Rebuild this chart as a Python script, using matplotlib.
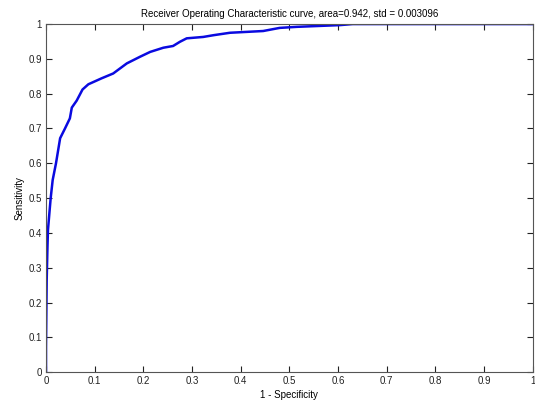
import matplotlib
matplotlib.use("Agg")
from matplotlib import pyplot as plt
import numpy as np

# ROC curve points (1 - specificity, sensitivity)
fpr = [0.0, 0.0, 0.0014, 0.003, 0.004, 0.0075, 0.0096, 0.0137, 0.0205, 0.029,
       0.039, 0.049, 0.053, 0.063, 0.075, 0.087, 0.114, 0.138, 0.166, 0.193,
       0.214, 0.241, 0.261, 0.275, 0.289, 0.323, 0.344, 0.378, 0.446, 0.48,
       0.515, 0.604, 0.63, 0.8, 1.0]
tpr = [0.0, 0.073, 0.264, 0.36, 0.408, 0.466, 0.50, 0.552, 0.60, 0.672,
       0.70, 0.729, 0.76, 0.78, 0.812, 0.827, 0.844, 0.858, 0.887, 0.906,
       0.92, 0.932, 0.937, 0.949, 0.959, 0.963, 0.968, 0.975, 0.98, 0.989,
       0.992, 0.997, 1.0, 1.0, 1.0]
ticks = np.arange(0, 1.01, 0.1)
tick_labels = ['0', '0.1', '0.2', '0.3', '0.4', '0.5', '0.6', '0.7', '0.8', '0.9', '1']

plt.rcParams['font.family'] = ['Liberation Sans', 'DejaVu Sans']

fig = plt.figure(figsize=(5.35, 4.01), dpi=100)
ax = fig.add_axes([0.086, 0.072, 0.910, 0.868])

ax.plot(fpr, tpr, color='#0a0ae0', linewidth=1.8)

ax.set_xlim(0, 1)
ax.set_ylim(0, 1)
ax.set_xticks(ticks)
ax.set_yticks(ticks)
ax.set_xticklabels(tick_labels)
ax.set_yticklabels(tick_labels)
ax.tick_params(direction='in', top=True, right=True, length=4, width=0.8,
               labelsize=7, colors='#222222', pad=3)
for s in ax.spines.values():
    s.set_color('#555555')
    s.set_linewidth(0.8)

ax.set_title('Receiver Operating Characteristic curve, area=0.942, std = 0.003096',
             fontsize=7, pad=5)
ax.set_xlabel('1 - Specificity', fontsize=7, labelpad=3)
ax.set_ylabel('Sensitivity', fontsize=7, labelpad=3)

fig.savefig('out.png', dpi=100)
